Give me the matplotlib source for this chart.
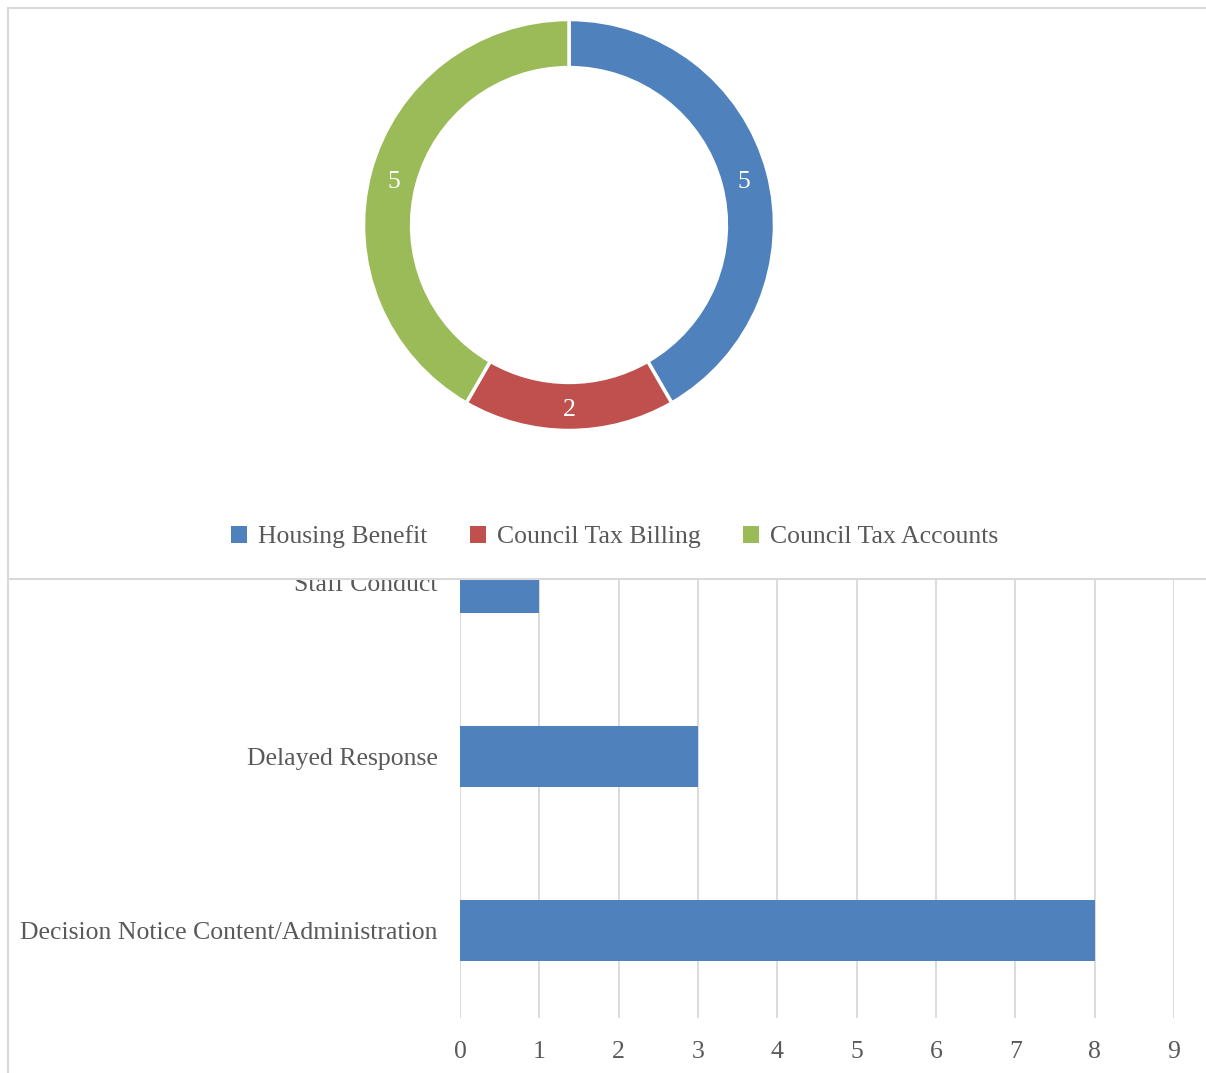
import matplotlib.pyplot as plt
from matplotlib.patches import Rectangle, Patch
from matplotlib.transforms import offset_copy

W, H = 1206, 1073

# donut data
services = ["Housing Benefit", "Council Tax Billing", "Council Tax Accounts"]
service_counts = [5, 2, 5]
service_colors = ["#4f81bd", "#c0504d", "#9bbb59"]

# bar data (top to bottom)
reasons = ["Staff Conduct", "Delayed Response", "Decision Notice Content/Administration"]
reason_counts = [1, 3, 8]
x_ticks = list(range(0, 10))

TEXT = "#595959"
GRID = "#d9d9d9"
FS = 18.5

plt.rcParams["font.family"] = ["Liberation Serif", "DejaVu Serif"]


def fx(px):
    return px / W


def fy(py):
    return 1 - py / H


fig = plt.figure(figsize=(W / 100, H / 100), dpi=100)

# bar chart panel frame
fig.patches.append(Rectangle((fx(8), fy(1090)), 1.1, fy(490) - fy(1090),
                             transform=fig.transFigure, facecolor="white",
                             edgecolor=GRID, linewidth=1.5, zorder=-1))

# horizontal bar chart
ax = fig.add_axes([fx(460), fy(1017.5), fx(1174) - fx(460), fy(495.5) - fy(1017.5)])
ax.set_zorder(1)
ypos = list(range(len(reasons)))
ax.barh(ypos, reason_counts, height=0.35, color="#4f81bd", zorder=3)
ax.set_xlim(0, 9)
ax.set_ylim(len(reasons) - 0.5, -0.5)
ax.set_xticks(x_ticks)
ax.set_xticklabels([str(t) for t in x_ticks])
ax.set_yticks(ypos)
ax.set_yticklabels(reasons)
ax.tick_params(length=0, labelsize=FS, colors=TEXT)
ax.tick_params(axis="x", pad=17)
ax.tick_params(axis="y", pad=16)
ax.grid(axis="x", color=GRID, linewidth=1.3, zorder=0)
ax.set_axisbelow(True)
for s in ax.spines.values():
    s.set_visible(False)
ax.patch.set_alpha(0)

# donut panel drawn on top of the bar chart
fig.patches.append(Rectangle((fx(8), fy(579)), 1.1, fy(8) - fy(579),
                             transform=fig.transFigure, facecolor="white",
                             edgecolor=GRID, linewidth=1.5, zorder=5))

cx, cy, R = 569, 225, 205.5
pax = fig.add_axes([fx(cx - R), fy(cy + R), fx(2 * R), fy(cy - R) - fy(cy + R)])
pax.set_zorder(6)
total = sum(service_counts)
wedges, _, autotexts = pax.pie(
    service_counts, colors=service_colors, startangle=90, counterclock=False,
    radius=1, autopct=lambda p: f"{p * total / 100:.0f}", pctdistance=0.883,
    wedgeprops=dict(width=0.234, edgecolor="white", linewidth=2.5),
    textprops=dict(color="white", fontsize=FS))
for t in autotexts:
    t.set_transform(offset_copy(pax.transData, fig=fig, y=-4, units="dots"))
pax.set_xlim(-1, 1)
pax.set_ylim(-1, 1)
pax.set_aspect("equal")
pax.axis("off")

handles = [Patch(facecolor=c, edgecolor="none") for c in service_colors]
leg = fig.legend(handles, services, loc="center", bbox_to_anchor=(fx(615), fy(537)),
                 ncol=3, frameon=False, fontsize=FS, labelcolor=TEXT,
                 handlelength=0.6, handleheight=0.6, handletextpad=0.45,
                 columnspacing=1.65)
leg.set_zorder(7)

fig.savefig("out.png", dpi=100)
